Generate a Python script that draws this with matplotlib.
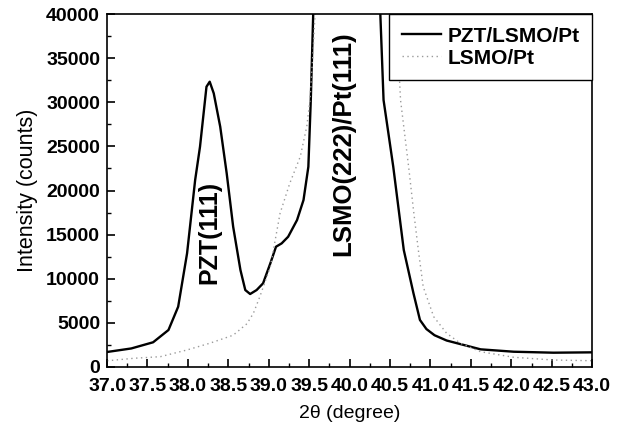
import matplotlib.pyplot as plt
from matplotlib.ticker import MultipleLocator

plt.rcParams['font.family'] = ['Liberation Sans', 'DejaVu Sans']

# PZT/LSMO/Pt (solid)
pzt_x = [37.0, 37.3, 37.57, 37.76, 37.88, 37.99, 38.09, 38.15, 38.23, 38.27, 38.32,
         38.40, 38.48, 38.56, 38.65, 38.71, 38.77, 38.85, 38.93, 39.02, 39.09,
         39.16, 39.24, 39.35, 39.43, 39.49, 39.52, 39.55, 39.58,
         40.35, 40.38, 40.42, 40.48, 40.54, 40.67, 40.79, 40.87, 40.95, 41.05,
         41.2, 41.33, 41.62, 42.03, 42.52, 43.0]
pzt_y = [1700, 2100, 2800, 4190, 6830, 12880, 21190, 24960, 31760, 32330, 31010,
         27230, 21950, 15900, 10990, 8720, 8270, 8720, 9480, 11750, 13630,
         14010, 14760, 16650, 18920, 22690, 30250, 40000, 45000,
         45000, 40000, 30250, 26480, 22690, 13260, 8350, 5330, 4300, 3600,
         3000, 2690, 2000, 1730, 1620, 1660]

# LSMO/Pt (dotted)
lsmo_x = [37.0, 37.33, 37.66, 37.99, 38.27, 38.56, 38.73, 38.81, 38.89, 39.02,
          39.14, 39.26, 39.39, 39.47, 39.51, 39.55, 39.6,
          40.55, 40.58, 40.63, 40.73, 40.79, 40.85, 40.91, 41.04, 41.2, 41.37,
          41.62, 42.03, 42.52, 43.0]
lsmo_y = [700, 985, 1170, 1930, 2690, 3600, 4900, 6080, 7970, 11360,
          17410, 20810, 23840, 27230, 30250, 36000, 45000,
          45000, 39300, 30250, 22690, 17790, 13260, 9100, 5700, 3820, 2690,
          1730, 1100, 790, 710]

xticks = [37.0, 37.5, 38.0, 38.5, 39.0, 39.5, 40.0, 40.5, 41.0, 41.5, 42.0, 42.5, 43.0]
yticks = [0, 5000, 10000, 15000, 20000, 25000, 30000, 35000, 40000]

fig = plt.figure(figsize=(6.24, 4.25), dpi=100)
ax = fig.add_axes([0.1715, 0.1365, 0.7775, 0.8305])

ax.plot(pzt_x, pzt_y, color='black', lw=1.7, label='PZT/LSMO/Pt')
ax.plot(lsmo_x, lsmo_y, color='#9a9a9a', lw=1.0, ls=(0, (1, 2.5)), label='LSMO/Pt')

ax.set_xlim(37.0, 43.0)
ax.set_ylim(0, 40000)
ax.set_xticks(xticks)
ax.set_yticks(yticks)
ax.set_xticklabels(['%.1f' % t for t in xticks])
ax.xaxis.set_minor_locator(MultipleLocator(0.25))
ax.yaxis.set_minor_locator(MultipleLocator(2500))
ax.tick_params(which='both', direction='in', top=False, right=False)
ax.tick_params(which='major', length=6, width=1.2, labelsize=14)
ax.tick_params(which='minor', length=3, width=1)
ax.tick_params(axis='x', which='major', pad=8)
ax.tick_params(axis='y', which='major', pad=5)
for lab in ax.get_xticklabels() + ax.get_yticklabels():
    lab.set_fontweight('bold')
for s in ax.spines.values():
    s.set_linewidth(1.2)

ax.set_xlabel('2\u03b8 (degree)', fontsize=14, labelpad=7)
ax.set_ylabel('Intensity (counts)', fontsize=15.5, labelpad=6)

ax.text(38.265, 15300, 'PZT(111)', rotation=90, fontsize=18, fontweight='bold',
        ha='center', va='center')
ax.text(39.92, 25300, 'LSMO(222)/Pt(111)', rotation=90, fontsize=18.5, fontweight='bold',
        ha='center', va='center')

leg = ax.legend(loc='upper right', borderaxespad=0, fancybox=False, frameon=True,
                prop={'weight': 'bold', 'size': 15}, handlelength=1.9,
                handletextpad=0.3, borderpad=0.6, labelspacing=0.15)
leg.get_frame().set_edgecolor('black')
leg.get_frame().set_linewidth(1.0)
leg.get_frame().set_alpha(1)

fig.savefig('out.png', dpi=100)
